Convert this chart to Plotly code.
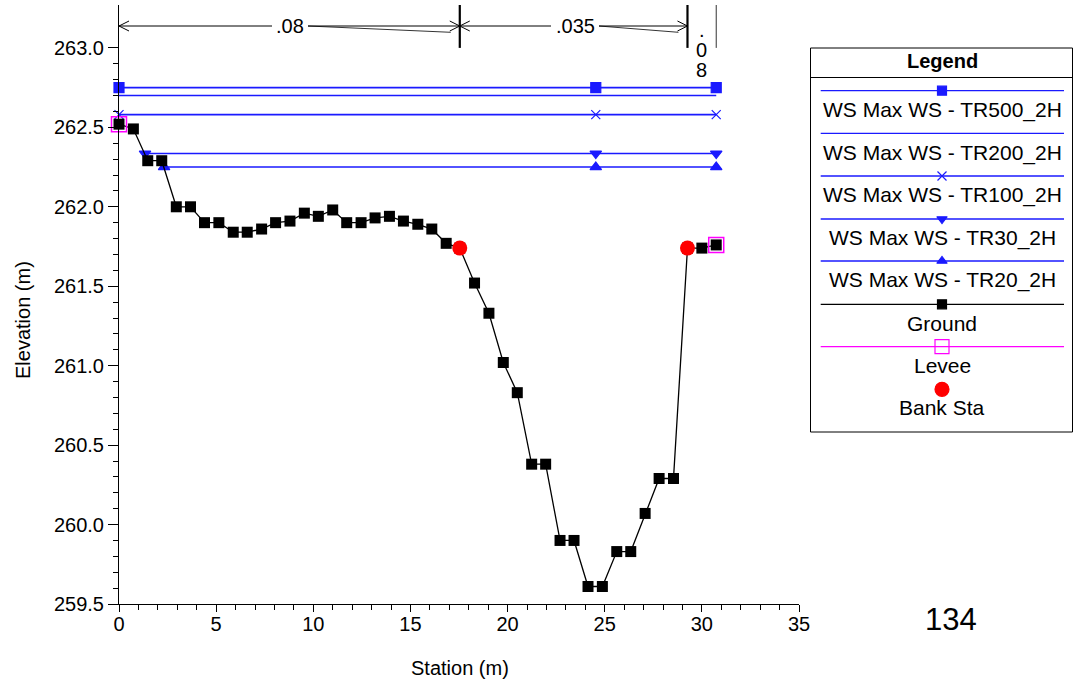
import plotly.graph_objects as go
import numpy as np

# ---------------- data ----------------
station = [0, 0.74, 1.48, 2.20, 2.95, 3.68, 4.40, 5.14, 5.88, 6.60,
           7.34, 8.06, 8.80, 9.54, 10.26, 11.0, 11.72, 12.46, 13.18, 13.92,
           14.64, 15.38, 16.10, 16.84, 17.54, 18.30, 19.04, 19.78, 20.50, 21.24,
           21.96, 22.70, 23.42, 24.14, 24.88, 25.62, 26.34, 27.08, 27.80, 28.54,
           29.26, 30.0, 30.74]
elevation = [262.52, 262.49, 262.29, 262.29, 262.00, 262.00, 261.90, 261.90, 261.84, 261.84,
             261.86, 261.90, 261.91, 261.96, 261.94, 261.98, 261.90, 261.90, 261.93, 261.94,
             261.91, 261.89, 261.86, 261.77, 261.74, 261.52, 261.33, 261.02, 260.83, 260.38,
             260.38, 259.90, 259.90, 259.61, 259.61, 259.83, 259.83, 260.07, 260.29, 260.29,
             261.74, 261.74, 261.76]

ws_names = ["WS Max WS - TR500_2H", "WS Max WS - TR200_2H", "WS Max WS - TR100_2H",
            "WS Max WS - TR30_2H", "WS Max WS - TR20_2H"]
ws_elev = [262.75, 262.70, 262.58, 262.335, 262.25]
ws_start = [0.0, 0.0, 0.0, 1.34, 2.32]
ws_end = [30.74, 30.74, 30.74, 30.74, 30.74]
ws_mid_marker = [24.54, None, 24.54, 24.54, 24.54]
ws_symbols = ["square", None, "x-thin", "triangle-down", "triangle-up"]

levee_sta = [0.0, 30.74]
levee_elev = [262.52, 261.76]
bank_sta = [17.54, 29.26]
bank_elev = [261.74, 261.74]

n_values = [".08", ".035", ".08"]
n_bounds = [0.0, 17.54, 29.26, 30.74]

section_label = "134"

# ---------------- geometry helpers ----------------
W, H = 1078, 688
L, R, T, B = 119, 0, 5, 84
PW = W - L - R
PH = H - T - B
X0, X1 = 0, 35
Y0, Y1 = 259.5, 263.27
main_px_right = 799
main_dom = (main_px_right - L) / PW
xs = (main_px_right - L) / (X1 - X0)
ys = PH / (Y1 - Y0)

def dx(px):  # pixel -> data x
    return X0 + (px - L) / xs

def dy(py):  # pixel -> data y
    return Y1 - (py - T) / ys

fig = go.Figure()

BLUE = "#1a1aff"
# WS lines
for name, e, s, en, mid, sym in zip(ws_names, ws_elev, ws_start, ws_end, ws_mid_marker, ws_symbols):
    fig.add_trace(go.Scatter(x=[s, en], y=[e, e], mode="lines",
                             line=dict(color=BLUE, width=1.6), cliponaxis=False, hoverinfo="skip"))
    if sym is not None:
        mx = [s, mid, en]
        fig.add_trace(go.Scatter(x=mx, y=[e] * len(mx), mode="markers",
                                 marker=dict(symbol=sym, color=BLUE, size=10 if sym != "x-thin" else 9,
                                             line=dict(color=BLUE, width=1.2)),
                                 cliponaxis=False, hoverinfo="skip"))

# Ground
fig.add_trace(go.Scatter(x=station, y=elevation, mode="lines+markers",
                         line=dict(color="black", width=1.3),
                         marker=dict(symbol="square", color="black", size=11),
                         cliponaxis=False, name="Ground"))
# Levee
fig.add_trace(go.Scatter(x=levee_sta, y=levee_elev, mode="markers",
                         marker=dict(symbol="square-open", color="#ff00ff", size=15,
                                     line=dict(color="#ff00ff", width=1.5)),
                         cliponaxis=False, name="Levee"))
# Bank stations
fig.add_trace(go.Scatter(x=bank_sta, y=bank_elev, mode="markers",
                         marker=dict(symbol="circle", color="#ff0000", size=15),
                         cliponaxis=False, name="Bank Sta"))

shapes = []
annotations = []

# ---------- Manning's n annotations at top ----------
y_line = dy(26)
y_top = Y1
y_bot = 263.0
for i, b in enumerate(n_bounds[1:]):
    thick = i < 2
    shapes.append(dict(type="line", xref="x", yref="y", x0=b, x1=b, y0=y_bot, y1=y_top,
                       line=dict(color="black" if thick else "#333333", width=2.2 if thick else 1)))

def chevron(tip_x, direction):
    ax = tip_x + direction * 10 / xs
    return [dict(type="line", xref="x", yref="y", x0=tip_x, y0=y_line, x1=ax, y1=y_line + 5 / ys,
                 line=dict(color="black", width=1)),
            dict(type="line", xref="x", yref="y", x0=tip_x, y0=y_line, x1=ax, y1=y_line - 5 / ys,
                 line=dict(color="black", width=1))]

gaps = [(272, 308), (551, 599)]
for k in range(2):
    a, b = n_bounds[k], n_bounds[k + 1]
    gl, gr = dx(gaps[k][0]), dx(gaps[k][1])
    shapes.append(dict(type="line", xref="x", yref="y", x0=a, x1=gl, y0=y_line, y1=y_line,
                       line=dict(color="black", width=1)))
    shapes.append(dict(type="line", xref="x", yref="y", x0=gr, x1=b, y0=y_line, y1=y_line,
                       line=dict(color="black", width=1)))
    shapes.append(dict(type="line", xref="x", yref="y", x0=gr, x1=b - 9 / xs, y0=y_line,
                       y1=y_line - 6.3 / ys, line=dict(color="black", width=0.8)))
    shapes += chevron(a, +1)
    shapes += chevron(b, -1)
    annotations.append(dict(x=(gl + gr) / 2, y=y_line, xref="x", yref="y", text=n_values[k],
                            showarrow=False, font=dict(size=20, color="black"),
                            xanchor="center", yanchor="middle"))

mid3 = (n_bounds[2] + n_bounds[3]) / 2
for ch, py in zip(list(n_values[2]), [30, 50, 70]):
    annotations.append(dict(x=mid3, y=dy(py), xref="x", yref="y", text=ch, showarrow=False,
                            font=dict(size=20, color="black"), xanchor="center", yanchor="middle"))

# ---------- custom legend box (pixel-mapped overlay axes) ----------
LX0, LX1, LY0, LY1 = 800, 1078, 40, 440
fig.update_layout(
    xaxis2=dict(domain=[(LX0 - L) / PW, 1.0], range=[LX0, LX1], visible=False, anchor="y2",
                fixedrange=True),
    yaxis2=dict(domain=[(H - B - LY1) / PH, (H - B - LY0) / PH], range=[LY1, LY0], visible=False,
                anchor="x2", fixedrange=True),
)
shapes.append(dict(type="rect", xref="x2", yref="y2", x0=810.5, x1=1072.5, y0=48, y1=432,
                   line=dict(color="black", width=1), fillcolor="white", layer="below"))
shapes.append(dict(type="line", xref="x2", yref="y2", x0=810.5, x1=1072.5, y0=77.5, y1=77.5,
                   line=dict(color="black", width=1)))
annotations.append(dict(x=942, y=61, xref="x2", yref="y2", text="<b>Legend</b>", showarrow=False,
                        font=dict(size=20, color="black"), xanchor="center", yanchor="middle"))

leg_names = ws_names + ["Ground", "Levee", "Bank Sta"]
leg_line_y = [90.7, 133.3, 176, 219, 261, 304.3, 346.7, None]
leg_text_y = [110, 152.7, 195, 237.7, 280, 323.3, 365, 407.7]
leg_colors = [BLUE] * 5 + ["black", "#ff00ff", None]
leg_symbols = ws_symbols + ["square", "square-open", "circle"]
leg_msize = [9, 0, 9, 9, 9, 9, 14, 14]
leg_mcolor = [BLUE] * 5 + ["black", "#ff00ff", "#ff0000"]
for i, nm in enumerate(leg_names):
    ly = leg_line_y[i]
    if ly is not None:
        fig.add_trace(go.Scatter(x=[820.7, 1064], y=[ly, ly], xaxis="x2", yaxis="y2", mode="lines",
                                 line=dict(color=leg_colors[i], width=1.3), hoverinfo="skip",
                                 cliponaxis=False))
    sym = leg_symbols[i]
    if sym is not None:
        my = ly if ly is not None else 389.3
        fig.add_trace(go.Scatter(x=[942], y=[my], xaxis="x2", yaxis="y2", mode="markers",
                                 marker=dict(symbol=sym, color=leg_mcolor[i], size=leg_msize[i],
                                             line=dict(color=leg_mcolor[i], width=1.2)),
                                 hoverinfo="skip", cliponaxis=False))
    annotations.append(dict(x=942, y=leg_text_y[i], xref="x2", yref="y2", text=nm, showarrow=False,
                            font=dict(size=21, color="black"), xanchor="center", yanchor="middle"))

# axis titles & section label
annotations.append(dict(x=(460 - L) / PW, y=(H - B - 668) / PH, xref="paper", yref="paper",
                        text="Station (m)", showarrow=False, font=dict(size=20, color="black"),
                        xanchor="center", yanchor="middle"))
annotations.append(dict(x=(23 - L) / PW, y=(H - B - 320) / PH, xref="paper", yref="paper",
                        text="Elevation (m)", showarrow=False, textangle=-90,
                        font=dict(size=20, color="black"), xanchor="center", yanchor="middle"))
annotations.append(dict(x=(951 - L) / PW, y=(H - B - 620) / PH, xref="paper", yref="paper",
                        text=section_label, showarrow=False, font=dict(size=31, color="black"),
                        xanchor="center", yanchor="middle"))

y_minor = [round(v, 1) for v in np.arange(259.5, 263.01, 0.1)]

fig.update_layout(
    width=W, height=H,
    margin=dict(l=L, r=R, t=T, b=B),
    plot_bgcolor="white", paper_bgcolor="white",
    showlegend=False,
    font=dict(family="Liberation Sans, Arial, sans-serif", color="black"),
    xaxis=dict(domain=[0, main_dom], range=[X0, X1], showline=True, linecolor="black", linewidth=1,
               ticks="outside", ticklen=7, tickcolor="black", tick0=0, dtick=5,
               ticklabelstandoff=-5,
               minor=dict(dtick=1, ticks="outside", ticklen=5, tickcolor="black"),
               showgrid=False, zeroline=False, tickfont=dict(size=20, color="black"),
               anchor="y", fixedrange=True, automargin=False),
    yaxis=dict(range=[Y0, Y1], showline=True, linecolor="black", linewidth=1,
               ticks="outside", ticklen=10, tickcolor="black", tickmode="array",
               tickvals=[259.5, 260.0, 260.5, 261.0, 261.5, 262.0, 262.5, 263.0],
               tickformat=".1f",
               minor=dict(tickmode="array", tickvals=y_minor, ticks="outside", ticklen=5,
                          tickcolor="black"),
               showgrid=False, zeroline=False, tickfont=dict(size=20, color="black"),
               anchor="x", fixedrange=True, automargin=False),
    shapes=shapes,
    annotations=annotations,
)

fig.write_html("out.html", config={"displayModeBar": False},
               post_script="document.body.style.margin='0';document.body.style.overflow='hidden';")
